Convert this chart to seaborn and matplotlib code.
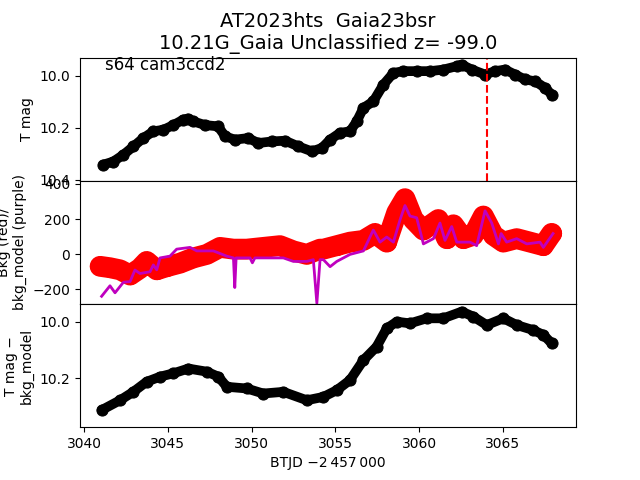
import matplotlib
matplotlib.use("Agg")
import matplotlib.pyplot as plt
import seaborn as sns

# T mag (top panel)
t_top = [3041.15, 3041.75, 3042.35, 3042.95, 3043.54, 3044.14, 3044.74, 3045.33,
         3045.93, 3046.2, 3046.53, 3047.22, 3048.0, 3048.42, 3049.0, 3049.8,
         3050.4, 3051.2, 3052.0, 3052.8, 3053.6, 3054.2, 3054.69, 3055.28,
         3055.88, 3056.28, 3056.68, 3057.27, 3057.87, 3058.47, 3059.06, 3059.86,
         3060.66, 3061.45, 3062.25, 3062.55, 3063.15, 3063.94, 3064.54, 3065.13,
         3065.73, 3066.33, 3066.93, 3067.52, 3067.92]
mag_top = [10.342, 10.33, 10.304, 10.272, 10.24, 10.214, 10.208, 10.19,
           10.169, 10.165, 10.176, 10.19, 10.195, 10.233, 10.246, 10.24,
           10.259, 10.253, 10.25, 10.272, 10.291, 10.278, 10.246, 10.22,
           10.214, 10.176, 10.124, 10.099, 10.035, 9.99, 9.983, 9.983,
           9.983, 9.977, 9.964, 9.958, 9.977, 9.996, 9.983, 9.977,
           9.996, 10.015, 10.022, 10.047, 10.073]

# Bkg (red) and bkg_model (purple)
t_bkg = [3040.96, 3041.55, 3042.15, 3042.75, 3043.34, 3043.74, 3044.34, 3044.94,
         3045.73, 3046.53, 3047.33, 3048.12, 3048.92, 3049.71, 3050.7, 3051.7,
         3052.5, 3053.3, 3054.09, 3054.29, 3055.09, 3055.88, 3056.68, 3057.37,
         3058.07, 3058.67, 3059.16, 3059.66, 3060.26, 3061.15, 3061.65, 3062.05,
         3062.65, 3063.24, 3063.84, 3064.44, 3065.03, 3065.83, 3066.63, 3067.42,
         3067.92]
bkg = [-70, -78, -90, -120, -82, -42, -90, -72,
       -52, -22, -2, 38, 28, 28, 38, 48,
       18, -2, 28, 28, 48, 68, 78, 118,
       68, 237, 316, 197, 137, 197, 88, 167,
       88, 107, 217, 107, 68, 88, 68, 48,
       118]

t_model = [3041.05, 3041.55, 3041.85, 3042.35, 3042.75, 3043.04, 3043.34, 3043.94,
           3044.14, 3044.34, 3044.54, 3045.13, 3045.53, 3046.33, 3046.73, 3047.72,
           3048.52, 3048.92, 3049.0, 3049.08, 3049.91, 3050.05, 3050.2, 3050.9,
           3051.9, 3052.5, 3053.3, 3053.69, 3053.9, 3054.09, 3054.29, 3054.69,
           3055.09, 3055.88, 3056.68, 3057.27, 3057.67, 3058.07, 3058.47, 3058.87,
           3059.16, 3059.46, 3059.86, 3060.26, 3060.86, 3061.25, 3061.55, 3061.95,
           3062.25, 3063.04, 3063.44, 3063.94, 3064.34, 3064.74, 3064.9, 3065.23,
           3065.83, 3066.43, 3067.22, 3067.42, 3068.0]
bkg_model = [-241, -181, -221, -161, -157, -91, -111, -101,
             -62, -90, -22, -12, 28, 38, 18, 18,
             -12, -22, -191, -22, -22, -50, -22, -22,
             -22, -42, -42, -32, -281, -32, -32, -72,
             -42, -2, 18, 137, 68, 97, 68, 197,
             277, 217, 207, 58, 88, 177, 78, 157,
             68, 68, 48, 247, 177, 58, 117, 68,
             88, 58, 68, 38, 117]

# T mag - bkg_model (bottom panel)
t_bot = [3041.05, 3042.15, 3042.94, 3043.74, 3044.54, 3045.33, 3046.23, 3047.32,
         3048.02, 3048.52, 3049.71, 3050.7, 3051.9, 3053.3, 3054.29, 3055.09,
         3055.88, 3056.68, 3057.47, 3058.07, 3058.67, 3059.46, 3060.46, 3061.45,
         3062.55, 3063.24, 3064.04, 3065.03, 3065.83, 3066.82, 3067.42, 3067.92]
mag_bot = [10.314, 10.279, 10.249, 10.213, 10.195, 10.183, 10.166, 10.177,
           10.195, 10.231, 10.237, 10.255, 10.249, 10.279, 10.267, 10.243,
           10.207, 10.136, 10.088, 10.023, 9.999, 10.005, 9.987, 9.987,
           9.963, 9.981, 10.011, 9.987, 10.011, 10.029, 10.046, 10.076]

t_event = 3064.04

fig, axes = plt.subplots(3, 1, figsize=(6.4, 4.8), sharex=True,
                         gridspec_kw={'hspace': 0})

# top panel
sns.lineplot(x=t_top, y=mag_top, ax=axes[0], color='k', lw=7, marker='o',
             markersize=8, markeredgecolor='k', solid_capstyle='round', sort=False)
axes[0].axvline(t_event, color='r', ls='--', lw=1.5)
axes[0].set_ylim(10.404, 9.931)
axes[0].set_ylabel('T mag')
axes[0].text(0.05, 0.9, 's64 cam3ccd2', transform=axes[0].transAxes, fontsize=12)
axes[0].set_title('AT2023hts  Gaia23bsr\n10.21G_Gaia Unclassified z= -99.0',
                  fontsize=14)

# middle panel
sns.lineplot(x=t_bkg, y=bkg, ax=axes[1], color='r', lw=15, marker='o',
             markersize=13, markeredgecolor='r', solid_capstyle='round', sort=False)
sns.lineplot(x=t_model, y=bkg_model, ax=axes[1], color='m', lw=2, sort=False)
axes[1].set_ylim(-285, 418)
axes[1].set_ylabel('Bkg (red)/\nbkg_model (purple)')

# bottom panel
sns.lineplot(x=t_bot, y=mag_bot, ax=axes[2], color='k', lw=7, marker='o',
             markersize=8, markeredgecolor='k', solid_capstyle='round', sort=False)
axes[2].set_ylim(10.375, 9.936)
axes[2].set_ylabel('T mag \u2212\nbkg_model')

axes[2].set_xlim(3039.76, 3069.37)
axes[2].set_xlabel('BTJD \u22122\u2009457\u2009000')

plt.savefig('out.png', dpi=100)
